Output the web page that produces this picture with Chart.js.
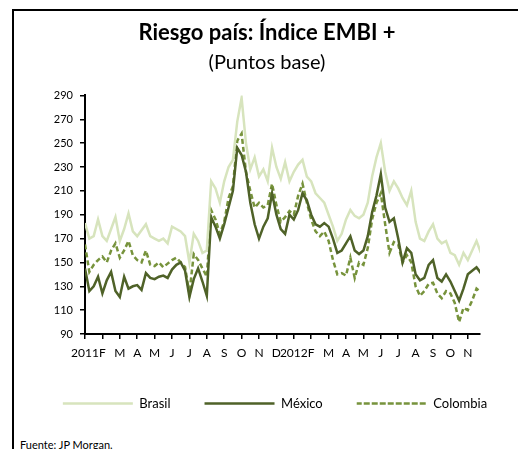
<!DOCTYPE html>
<html>
<head>
<meta charset="utf-8">
<script src="https://cdn.jsdelivr.net/npm/chart.js@4.4.1/dist/chart.umd.min.js"></script>
<style>
  html, body { margin: 0; padding: 0; background: #fff; overflow: hidden; }
  body { width: 518px; height: 449px; position: relative; }
  #frame { position: absolute; left: 12px; top: 9px; width: 600px; height: 600px;
           border-left: 2px solid #000; border-top: 2px solid #000; }
  #wrap { position: absolute; left: 16px; top: 12px; width: 502px; height: 408px; }
  #source { position: absolute; left: 20px; top: 438px; font: 11px Lato, sans-serif; color: #000; }
</style>
</head>
<body>
<div id="frame"></div>
<div id="wrap"><canvas id="chart"></canvas></div>
<div id="source">Fuente: JP Morgan.</div>
<script>
// Month labels, Jan 2011 .. Nov 2012 (one tick per month)
const monthLabels = ["2011", "F", "M", "A", "M", "J", "J", "A", "S", "O", "N", "D",
  "2012", "F", "M", "A", "M", "J", "J", "A", "S", "O", "N"];

// weekly readings (4 per month), basis points
const brasil = [
  183, 170, 172, 186, 172, 168, 178, 188, 168, 178, 191, 176, 172, 177, 182, 172,
  170, 168, 170, 166, 180, 178, 176, 172, 150, 174, 168, 158, 160, 218, 212, 200,
  218, 230, 236, 268, 288, 250, 228, 238, 222, 228, 218, 246, 230, 220, 234, 218,
  226, 232, 236, 222, 218, 208, 204, 200, 190, 180, 168, 174, 186, 194, 189, 187,
  190, 200, 222, 238, 250, 226, 210, 218, 212, 204, 198, 210, 184, 170, 168, 176,
  182, 170, 166, 168, 158, 156, 148, 158, 152, 160, 168, 158
];
const mexico = [
  145, 126, 130, 138, 124, 135, 142, 126, 121, 138, 128, 130, 131, 127, 141, 137,
  136, 138, 139, 137, 144, 148, 150, 143, 121, 136, 145, 134, 122, 188, 180, 170,
  182, 196, 210, 246, 240, 226, 200, 182, 170, 180, 187, 208, 190, 178, 174, 190,
  186, 194, 208, 202, 190, 182, 180, 183, 180, 170, 158, 160, 166, 172, 160, 157,
  160, 172, 192, 206, 224, 196, 184, 187, 170, 150, 162, 158, 140, 135, 137, 148,
  152, 137, 134, 140, 134, 126, 118, 128, 140, 143, 146, 141
];
const colombia = [
  165, 142, 148, 152, 155, 150, 160, 166, 154, 160, 168, 156, 152, 150, 160, 148,
  147, 150, 146, 149, 152, 154, 150, 146, 124, 157, 152, 145, 138, 194, 186, 174,
  184, 204, 214, 252, 258, 226, 210, 196, 200, 196, 198, 216, 198, 184, 188, 193,
  190, 206, 216, 200, 186, 176, 172, 176, 168, 152, 140, 141, 139, 154, 137, 150,
  148, 162, 186, 200, 208, 182, 158, 167, 165, 150, 156, 150, 130, 122, 126, 132,
  133, 124, 120, 126, 124, 116, 100, 112, 110, 118, 128, 125
];

// x position in months since Jan 2011 (weekly steps)
const toPoints = (vals) => vals.map((v, i) => ({ x: i * 0.25, y: v }));

const font = "Lato, 'Open Sans', sans-serif";

// nudge the legend a bit to the right, like the original
const legendShift = {
  id: "legendShift",
  afterLayout(chart) {
    chart.legend.left += 8;
    chart.legend.right += 8;
  },
};

new Chart(document.getElementById("chart"), {
  type: "line",
  plugins: [legendShift],
  data: {
    datasets: [
      { label: "Brasil", data: toPoints(brasil), borderColor: "#d7e4bd",
        backgroundColor: "#d7e4bd", borderWidth: 2.5 },
      { label: "México", data: toPoints(mexico), borderColor: "#4f6228",
        backgroundColor: "#4f6228", borderWidth: 2.5 },
      { label: "Colombia", data: toPoints(colombia), borderColor: "#77933c",
        backgroundColor: "#77933c", borderWidth: 2.5, borderDash: [5, 3] },
    ],
  },
  options: {
    responsive: true,
    maintainAspectRatio: false,
    animation: false,
    elements: { point: { radius: 0 }, line: { tension: 0 } },
    plugins: {
      tooltip: { enabled: false },
      title: {
        display: true,
        text: "Riesgo país: Índice EMBI +",
        color: "#000",
        font: { family: font, size: 22, weight: "bold" },
        padding: { top: 8, bottom: 4 },
      },
      subtitle: {
        display: true,
        text: "(Puntos base)",
        color: "#000",
        font: { family: font, size: 20 },
        padding: { top: 0, bottom: 21 },
      },
      legend: {
        position: "bottom",
        labels: {
          color: "#000",
          font: { family: font, size: 13 },
          boxWidth: 70,
          boxHeight: 0,
          padding: 34,
        },
      },
    },
    scales: {
      x: {
        type: "linear",
        min: 0,
        max: 22.7,
        border: { color: "#000", width: 2 },
        grid: { drawOnChartArea: false, drawTicks: true, tickLength: 5, color: "#000", lineWidth: 1.5 },
        ticks: {
          stepSize: 1,
          autoSkip: false,
          maxRotation: 0,
          color: "#000",
          font: { family: font, size: 12 },
          padding: 7,
          callback: (v) => Number.isInteger(v) ? monthLabels[v] : "",
        },
        afterBuildTicks: (scale) => {
          scale.ticks = monthLabels.map((_, i) => ({ value: i }));
        },
        afterFit: (scale) => { scale.height = 29; },
      },
      y: {
        min: 90,
        max: 290,
        border: { color: "#000", width: 2 },
        grid: { drawOnChartArea: false, drawTicks: true, tickLength: 5, color: "#000", lineWidth: 1.5 },
        ticks: {
          stepSize: 20,
          color: "#000",
          font: { family: font, size: 11 },
          padding: 7,
        },
        afterFit: (scale) => { scale.width = 69; },
      },
      // empty right-hand spacer so the plot ends where the reference's does
      spacer: {
        position: "right",
        display: true,
        grid: { display: false },
        border: { display: false },
        ticks: { display: false },
        afterFit: (scale) => { scale.width = 38; },
      },
    },
  },
});
</script>
</body>
</html>
